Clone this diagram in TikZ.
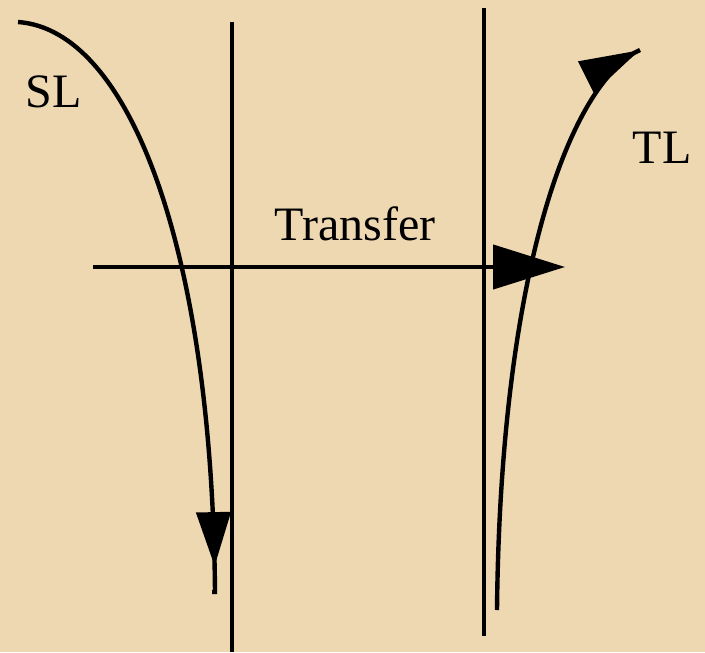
\documentclass[tikz,border=0pt]{standalone}
\usepackage{fontspec}
\setmainfont{Liberation Serif}
\usetikzlibrary{arrows.meta,decorations.markings}
\definecolor{paper}{RGB}{238,216,178}

\begin{document}
\begin{tikzpicture}[x=0.5pt,y=-0.5pt,font=\fontsize{24}{28}\selectfont,
  wall/.style={line width=2pt},
  lbl/.style={inner sep=0pt,text=black},
  flow/.style={line width=2.2pt},
  midtip/.style 2 args={postaction={decorate},decoration={markings,
    mark=at position #1 with {\arrow{Triangle[length=#2,width=17pt]}}}}]
\fill[paper] (0,0) rectangle (705,652);
\useasboundingbox (0,0) rectangle (705,652);
% the two boundaries
\coordinate (w1top) at (232,22);  \coordinate (w1bot) at (232,652);
\coordinate (w2top) at (484,8);   \coordinate (w2bot) at (484,636);
\draw[wall] (w1top) -- (w1bot);
\draw[wall] (w2top) -- (w2bot);
% labels
\node[lbl] (sl) at (54,92) {SL};
\node[lbl] (tl) at (662,148) {TL};
\node[lbl] (tr) at (355,224) {Transfer};
% transfer arrow
\coordinate (trA) at (93,267); \coordinate (trB) at (565,267);
\draw[flow,-{Triangle[length=36pt,width=22pt]}] (trA) -- (trB);
% SL and TL curves
\coordinate (slA) at (18,22); \coordinate (slB) at (215,592);
\draw[flow,midtip={0.955}{27pt}] (slA) .. controls (130,30) and (212,250) .. (slB) -- ++(-3,0);
\coordinate (tlA) at (497,610); \coordinate (tlB) at (634,53);
\draw[flow,midtip={0.999}{30pt}] (tlA) .. controls (500,300) and (560,100) .. (tlB) -- ++(6,-3);
\end{tikzpicture}
\end{document}
